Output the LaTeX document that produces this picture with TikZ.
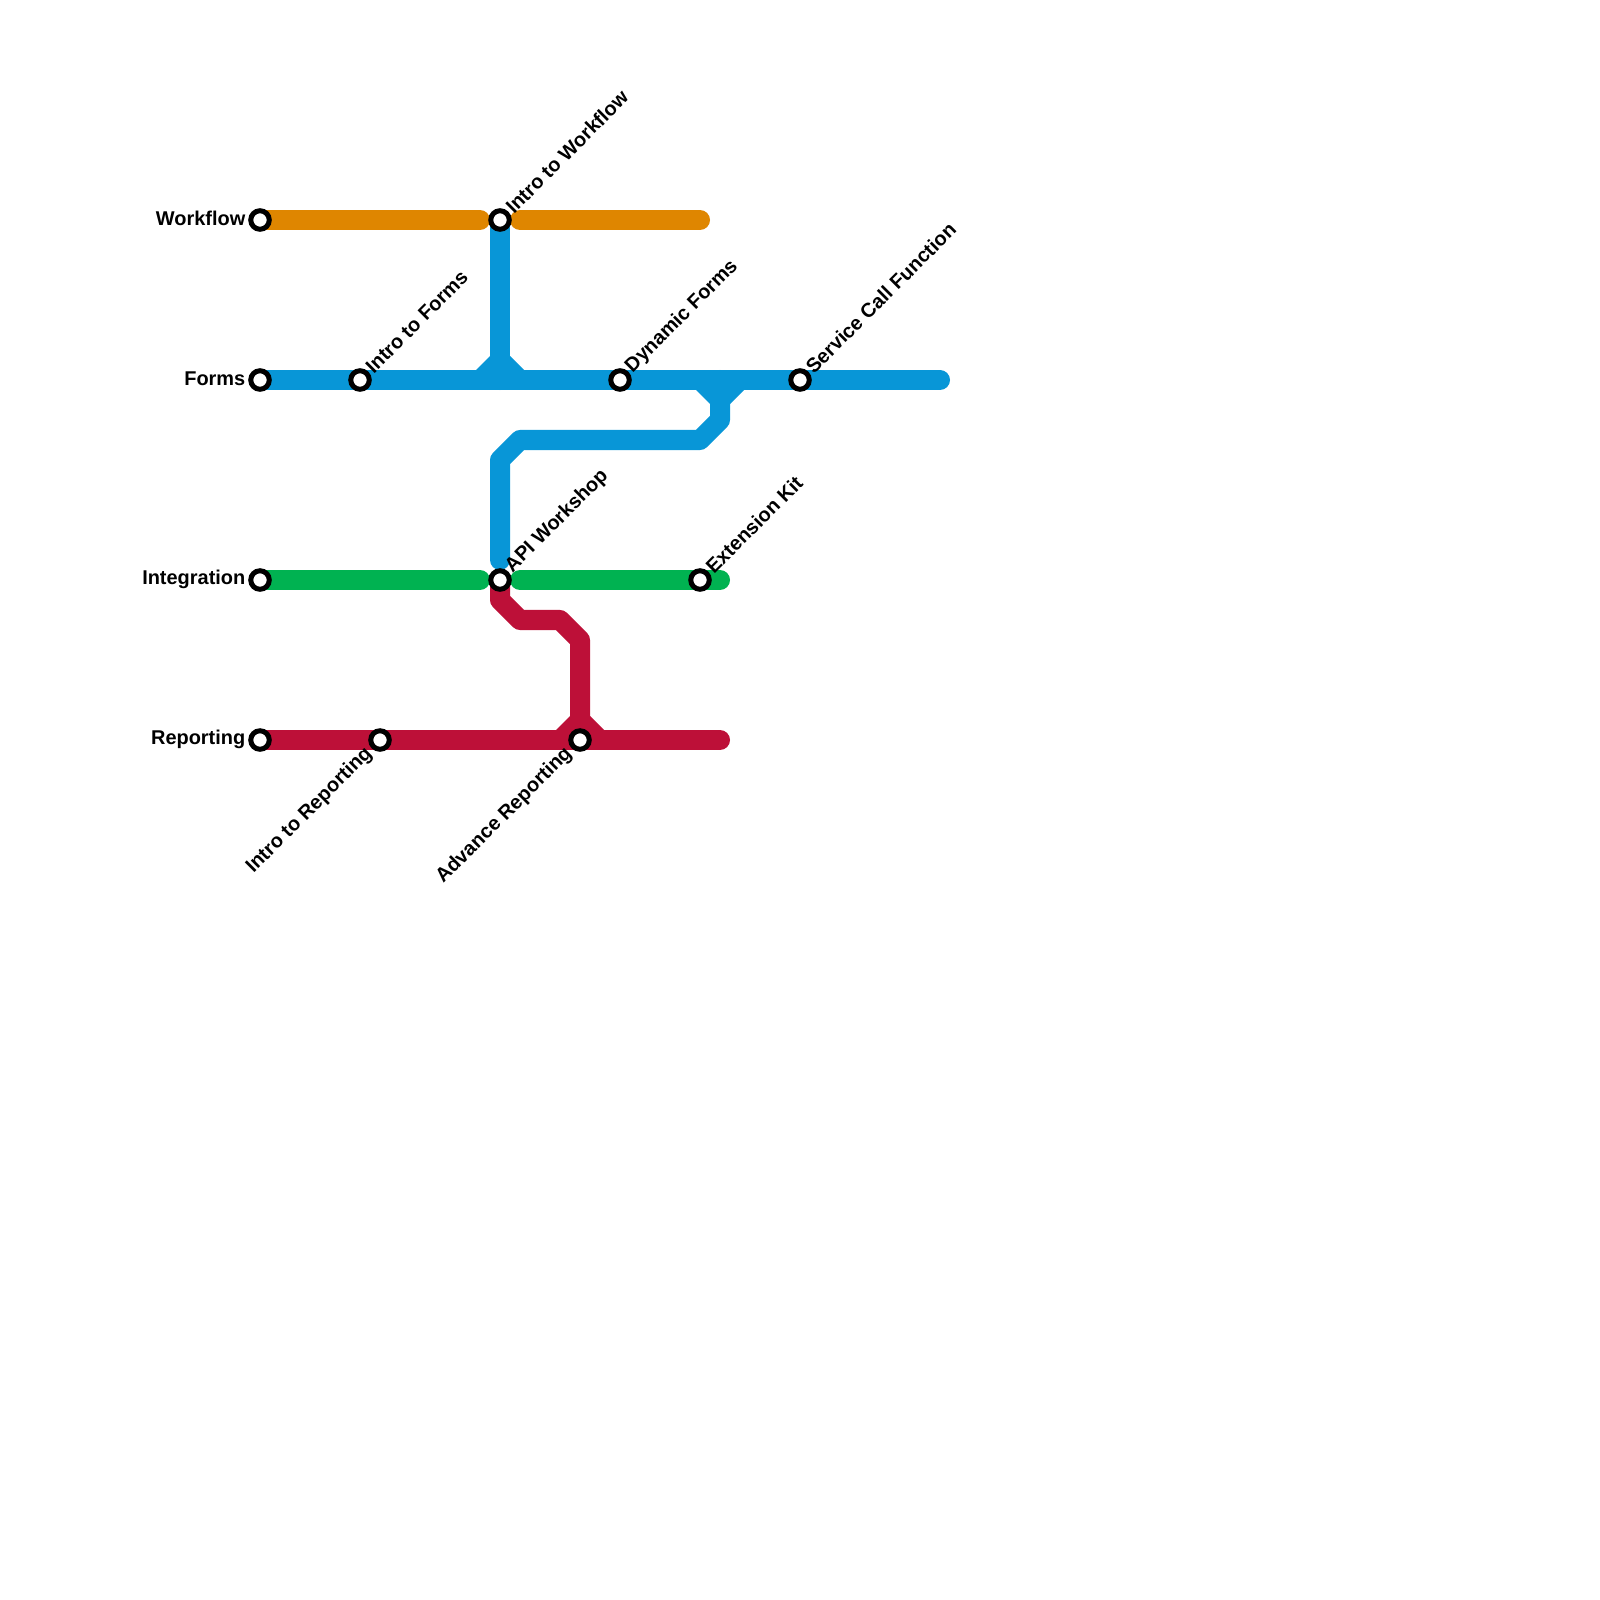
\documentclass[tikz,border=0pt]{standalone}
\usepackage{fontspec}
\setmainfont{Liberation Sans}
\usetikzlibrary{positioning,backgrounds,calc}
\definecolor{wfline}{HTML}{DF8600}
\definecolor{fmline}{HTML}{0896D7}
\definecolor{igline}{HTML}{00B251}
\definecolor{rpline}{HTML}{BD1038}

\begin{document}
\begin{tikzpicture}[
  x=0.01cm,y=-0.01cm,
  stn/.style={draw=black,fill=white,circle,line width=0.5mm,inner sep=0pt,minimum size=1.85mm},
  track/.style={draw=#1,line width=2mm,line cap=round,line join=round},
  tag/.style={font=\bfseries\fontsize{5.67}{6}\selectfont,inner sep=0pt,text=black},
  uptag/.style={tag,rotate=45,anchor=west},
  downtag/.style={tag,rotate=45,anchor=east}
]
\useasboundingbox (0,0) rectangle (1600,1600);

% stations
\node[stn] (wf)  at (260,220) {};
\node[stn] (fm)  at (260,380) {};
\node[stn] (ig)  at (260,580) {};
\node[stn] (rp)  at (260,740) {};
\node[stn] (itf) at (360,380) {};
\node[stn] (itw) at (500,220) {};
\node[stn] (dyn) at (620,380) {};
\node[stn] (scf) at (800,380) {};
\node[stn] (api) at (500,580) {};
\node[stn] (ext) at (700,580) {};
\node[stn] (itr) at (380,740) {};
\node[stn] (adv) at (580,740) {};

% free ends
\coordinate (wfa) at (480,220);
\coordinate (wfb) at (520,220);
\coordinate (wfc) at (700,220);
\coordinate (fme) at (940,380);
\coordinate (iga) at (480,580);
\coordinate (igb) at (520,580);
\coordinate (igc) at (720,580);
\coordinate (rpe) at (720,740);
\coordinate (apb) at (500,560);

\begin{scope}[on background layer]
\draw[track=wfline] (wf.center) -- (wfa);
\draw[track=wfline] (wfb) -- (wfc);
\draw[track=igline] (ig.center) -- (iga);
\draw[track=igline] (igb) -- (igc);
\draw[track=fmline] (fm.center) -- (fme);
\draw[track=rpline] (rp.center) -- (rpe);

\draw[track=fmline] (itw.center) -- (500,380);
\fill[fmline] (490,356) -- (476,370) -- (524,370) -- (510,356) -- cycle;
\draw[track=fmline] (720,380) -- (720,420) -- (700,440) -- (520,440) -- (500,460) -- (apb);
\fill[fmline] (696,390) -- (710,404) -- (730,404) -- (744,390) -- cycle;

\draw[track=rpline] (api.center) -- (500,600) -- (520,620) -- (560,620) -- (580,640) -- (adv.center);
\fill[rpline] (570,716) -- (556,730) -- (604,730) -- (590,716) -- cycle;
\end{scope}

% line names
\node[tag,left=1.4mm of wf.center,yshift=0.15mm] (wfn) {Workflow};
\node[tag,left=1.4mm of fm.center,yshift=0.15mm] (fmn) {Forms};
\node[tag,left=1.4mm of ig.center,yshift=0.05mm] (ign) {Integration};
\node[tag,left=1.4mm of rp.center,yshift=0.1mm] (rpn) {Reporting};

% station names
\node[uptag] (itwn) at ([shift={(0.85mm,1mm)}]itw.center) {Intro to Workflow};
\node[uptag] (itfn) at ([shift={(0.85mm,1mm)}]itf.center) {Intro to Forms};
\node[uptag] (dynn) at ([shift={(0.85mm,1mm)}]dyn.center) {Dynamic Forms};
\node[uptag] (scfn) at ([shift={(0.85mm,1mm)}]scf.center) {Service Call Function};
\node[uptag] (apin) at ([shift={(0.85mm,1mm)}]api.center) {API Workshop};
\node[uptag] (extn) at ([shift={(0.85mm,1mm)}]ext.center) {Extension Kit};
\node[downtag] (itrn) at ([shift={(-1.05mm,-1.05mm)}]itr.center) {Intro to Reporting};
\node[downtag] (advn) at ([shift={(-1.05mm,-1.05mm)}]adv.center) {Advance Reporting};
\end{tikzpicture}
\end{document}
